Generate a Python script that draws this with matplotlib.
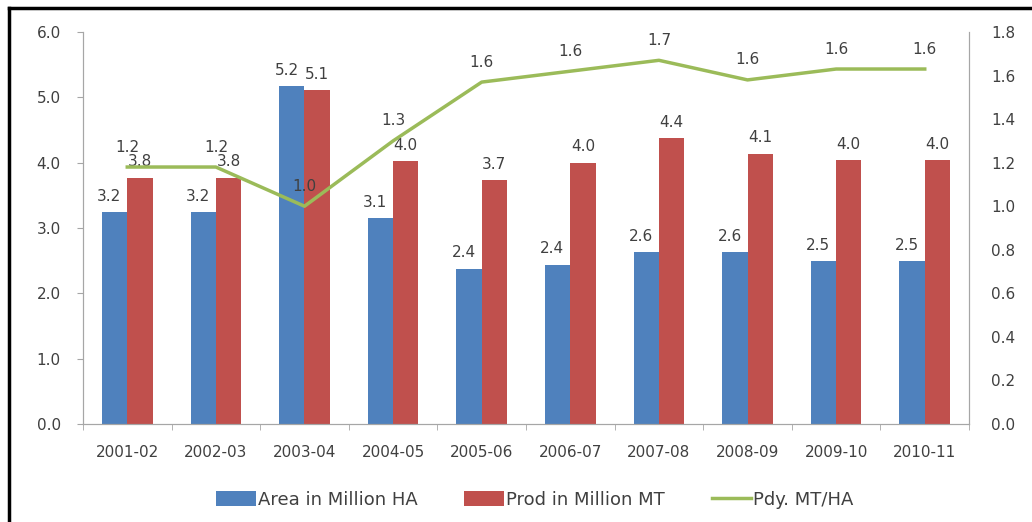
import numpy as np
import matplotlib.pyplot as plt
from matplotlib.lines import Line2D

years = ['2001-02', '2002-03', '2003-04', '2004-05', '2005-06',
         '2006-07', '2007-08', '2008-09', '2009-10', '2010-11']
area = [3.24, 3.24, 5.17, 3.15, 2.38, 2.44, 2.63, 2.63, 2.49, 2.49]
prod = [3.77, 3.77, 5.11, 4.02, 3.73, 4.00, 4.37, 4.14, 4.04, 4.04]
pdy = [1.18, 1.18, 1.00, 1.30, 1.57, 1.62, 1.67, 1.58, 1.63, 1.63]

blue = '#4F81BD'
red = '#C0504D'
green = '#9BBB59'
txt = '#404040'
grey = '#A6A6A6'

plt.rcParams['font.family'] = 'DejaVu Sans'

fig = plt.figure(figsize=(10.32, 5.22), dpi=100)
ax = fig.add_axes([0.0804, 0.1877, 0.8586, 0.751])
ax2 = ax.twinx()

ind = np.arange(len(years))
width = 0.285

rects1 = ax.bar(ind - width / 2, area, width, color=blue, label='Area in Million HA')
rects2 = ax.bar(ind + width / 2, prod, width, color=red, label='Prod in Million MT')
line, = ax2.plot(ind, pdy, color=green, lw=2.5, label='Pdy. MT/HA')

for rect, v in zip(rects1, area):
    ax.annotate(format(v, '.1f'), (rect.get_x() + rect.get_width() / 2 - 0.06, v),
                xytext=(0, 6), textcoords='offset points',
                ha='center', va='bottom', fontsize=11, color=txt)
for rect, v in zip(rects2, prod):
    ax.annotate(format(v, '.1f'), (rect.get_x() + rect.get_width() / 2, v),
                xytext=(0, 6), textcoords='offset points',
                ha='center', va='bottom', fontsize=11, color=txt)
for x, v in zip(ind, pdy):
    ax2.annotate(format(v, '.1f'), (x, v),
                 xytext=(0, 9), textcoords='offset points',
                 ha='center', va='bottom', fontsize=11, color=txt)

ax.set_xlim(-0.5, len(years) - 0.5)
ax.set_ylim(0, 6)
ax.set_yticks(np.arange(0, 6.1, 1.0))
ax.set_yticklabels([format(v, '.1f') for v in np.arange(0, 6.1, 1.0)])
ax2.set_ylim(0, 1.8)
ax2.set_yticks(np.arange(0, 1.81, 0.2))
ax2.set_yticklabels([format(v, '.1f') for v in np.arange(0, 1.81, 0.2)])

ax.set_xticks(ind)
ax.set_xticklabels(years)
ax.set_xticks(np.arange(-0.5, len(years), 1.0), minor=True)
ax.tick_params(axis='x', which='major', length=0, pad=15, labelsize=11, labelcolor=txt)
ax.tick_params(axis='x', which='minor', length=4, color=grey)
ax.tick_params(axis='y', length=4, color=grey, labelsize=11, labelcolor=txt, pad=12)
ax2.tick_params(axis='y', length=0, labelsize=11, labelcolor=txt, pad=16)

for a in (ax, ax2):
    a.spines['top'].set_visible(False)
    a.spines['left'].set_color(grey)
    a.spines['right'].set_color(grey)
    a.spines['bottom'].set_color(grey)

ax.legend(handles=[rects1, rects2, line], loc='center', bbox_to_anchor=(0.51, -0.193),
          ncol=3, frameon=False, fontsize=13, labelcolor=txt,
          handlelength=2.2, handleheight=0.9, columnspacing=2.6, handletextpad=0.1)

# outer frame, left and top only
fig.add_artist(Line2D([0.0085, 0.0085], [0, 0.985], color='black', lw=2.5, transform=fig.transFigure))
fig.add_artist(Line2D([0.0085, 1.0], [0.985, 0.985], color='black', lw=2.5, transform=fig.transFigure))

plt.savefig('out.png', dpi=100)
